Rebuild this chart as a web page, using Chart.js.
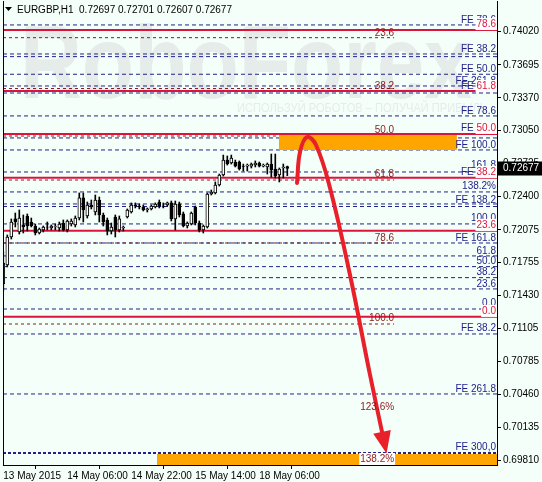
<!DOCTYPE html>
<html>
<head>
<meta charset="utf-8">
<script src="https://cdn.jsdelivr.net/npm/chart.js@4.4.1/dist/chart.umd.min.js"></script>
<style>
  html, body { margin: 0; padding: 0; background: #f5fffa; }
  canvas { display: block; }
</style>
</head>
<body>
<canvas id="chart" width="542" height="482"></canvas>
<script>
// EURGBP H1 candles, oldest first (one bar per hour)
const opens  = [0.71544,0.71730,0.72005,0.72182,0.72054,0.72123,0.72211,0.72152,0.72113,0.72044,0.72074,0.72103,0.72093,0.72103,0.72093,0.72142,0.72074,0.72132,0.72123,0.72191,0.72388,0.72211,0.72319,0.72250,0.72368,0.72221,0.72172,0.72064,0.72201,0.72074,0.72093,0.72201,0.72250,0.72319,0.72309,0.72299,0.72270,0.72280,0.72299,0.72348,0.72309,0.72319,0.72339,0.72182,0.72329,0.72231,0.72113,0.72132,0.72299,0.72142,0.72074,0.72103,0.72427,0.72437,0.72515,0.72613,0.72760,0.72731,0.72741,0.72741,0.72701,0.72701,0.72701,0.72711,0.72731,0.72701,0.72692,0.72721,0.72672,0.72613,0.72682,0.72697];
const highs  = [0.71858,0.72025,0.72182,0.72240,0.72270,0.72221,0.72231,0.72191,0.72132,0.72093,0.72113,0.72152,0.72123,0.72132,0.72152,0.72172,0.72172,0.72182,0.72211,0.72437,0.72437,0.72348,0.72368,0.72417,0.72397,0.72240,0.72191,0.72142,0.72221,0.72211,0.72113,0.72280,0.72339,0.72339,0.72329,0.72319,0.72290,0.72319,0.72339,0.72368,0.72339,0.72348,0.72358,0.72358,0.72348,0.72250,0.72152,0.72250,0.72309,0.72162,0.72123,0.72437,0.72466,0.72545,0.72623,0.72809,0.72800,0.72809,0.72760,0.72751,0.72721,0.72721,0.72731,0.72751,0.72741,0.72721,0.72731,0.72819,0.72819,0.72682,0.72721,0.72701];
const lows   = [0.71475,0.71711,0.71985,0.72103,0.72034,0.72044,0.72064,0.72103,0.72025,0.72034,0.72054,0.72074,0.72074,0.72074,0.72064,0.72064,0.72054,0.72113,0.72103,0.72172,0.72152,0.72191,0.72280,0.72221,0.72152,0.72113,0.72025,0.72034,0.72005,0.72054,0.72064,0.72191,0.72240,0.72290,0.72280,0.72260,0.72250,0.72270,0.72290,0.72290,0.72290,0.72309,0.72162,0.72074,0.72201,0.72103,0.72093,0.72123,0.72123,0.72054,0.72044,0.72093,0.72417,0.72427,0.72505,0.72603,0.72711,0.72721,0.72692,0.72662,0.72652,0.72652,0.72682,0.72692,0.72692,0.72692,0.72623,0.72593,0.72584,0.72545,0.72584,0.72607];
const closes = [0.71750,0.72005,0.72152,0.72152,0.72191,0.72103,0.72113,0.72113,0.72044,0.72083,0.72103,0.72100,0.72113,0.72106,0.72132,0.72074,0.72162,0.72162,0.72191,0.72388,0.72270,0.72319,0.72299,0.72368,0.72221,0.72152,0.72064,0.72103,0.72074,0.72182,0.72103,0.72270,0.72319,0.72309,0.72299,0.72270,0.72280,0.72309,0.72329,0.72309,0.72305,0.72339,0.72182,0.72329,0.72221,0.72113,0.72142,0.72240,0.72142,0.72074,0.72113,0.72427,0.72446,0.72515,0.72613,0.72760,0.72721,0.72780,0.72701,0.72672,0.72697,0.72711,0.72721,0.72731,0.72701,0.72711,0.72721,0.72662,0.72603,0.72672,0.72692,0.72677];

const timeTicks  = [0, 16, 32, 48, 64];
const timeLabels = ['13 May 2015', '14 May 06:00', '14 May 22:00', '15 May 14:00', '18 May 06:00'];
const priceTicks = [0.74020, 0.73695, 0.73370, 0.73050, 0.72725, 0.72400, 0.72075, 0.71755, 0.71430, 0.71105, 0.70785, 0.70460, 0.70135, 0.69810];
const lastPrice = 0.72677;

// Fibo retracement (red solid lines)
const fiboLevels = [0.74037, 0.73438, 0.73016, 0.72587, 0.72067, 0.71223];
// second retracement (dark red dotted, ends at bar 97.7)
const retrLevels = [0.73961, 0.73462, 0.72996, 0.72564, 0.71946, 0.71151];
// Fibo expansion levels (blue dashed)
const expLevels = [0.74086, 0.73801, 0.73775, 0.73602, 0.73487, 0.73418, 0.73193, 0.72977, 0.72859, 0.72643, 0.72447, 0.72329, 0.72304, 0.72133, 0.71946, 0.71819, 0.71714, 0.71606, 0.71495, 0.71298, 0.71053, 0.70464];
const fe300 = 0.69885;

// level captions
const blueTexts = ['FE 78.6','FE 38.2','FE 50.0','FE 261.8','FE 61.8','FE 78.6','FE 50.0','FE 100.0','161.8','FE 38.2','138.2%','FE 138.2','100.0','FE 161.8','61.8','50.0','38.2','23.6','0.0','FE 38.2','FE 261.8','FE 300,0'];
const blueTextAt = [0.74135,0.73850,0.73654,0.73536,0.73487,0.73242,0.73075,0.72908,0.72712,0.72643,0.72506,0.72368,0.72192,0.71995,0.71868,0.71770,0.71662,0.71544,0.71357,0.71112,0.70513,0.69944];
const redTexts = ['78.6','61.8','50.0','38.2','23.6','0.0'];
const redTextAt = [0.74095,0.73487,0.73075,0.72643,0.72123,0.71279];
const maroonTexts = ['23.6','38.2','50.0','61.8','78.6','100.0','123.6%','138.2%'];
const maroonTextAt = [0.74007,0.73487,0.73055,0.72623,0.71995,0.71210,0.70337,0.69826];

// target zones (orange)
const zoneFrom = [68.9, 38.4];
const zoneTo = [113.4, 123.425];
const zoneTop = [0.73016, 0.69875];
const zoneBottom = [0.72859, 0.69767];

// forecast arrow
const arrowX = [73.43, 74.18, 75.93, 78.18, 81.68, 86.68, 91.68, 94.68];
const arrowY = [0.72535, 0.72839, 0.72986, 0.72908, 0.72486, 0.71632, 0.70651, 0.70092];

const X_MIN = -0.075, X_MAX = 123.425, RETR_END = 97.7;
const BLUE = '#22228a', RED = '#dc143c', MAROON = '#8b1a1a', ORANGE = '#ffa500';

Chart.defaults.font.family = '"Liberation Sans", Arial, sans-serif';
Chart.defaults.font.size = 10;
Chart.defaults.color = '#000';

const hLine = (v, from, to, color, width, dash, order) => ({
  type: 'line',
  data: [{ x: from, y: v }, { x: to, y: v }],
  borderColor: color,
  borderWidth: width,
  borderDash: dash,
  pointRadius: 0,
  order: order
});

const datasets = [];
expLevels.forEach(v => datasets.push(hLine(v, X_MIN, X_MAX, BLUE, 1, [4, 3], 60)));
datasets.push(hLine(fe300, X_MIN, X_MAX, BLUE, 2, [3, 2], 60));
retrLevels.forEach(v => datasets.push(hLine(v, X_MIN, RETR_END, MAROON, 1, [3, 3], 55)));
zoneFrom.forEach((f, i) => datasets.push({
  type: 'line',
  data: [{ x: f, y: zoneTop[i] }, { x: zoneTo[i], y: zoneTop[i] }],
  borderWidth: 0,
  pointRadius: 0,
  backgroundColor: ORANGE,
  fill: { value: zoneBottom[i] },
  order: 40
}));
fiboLevels.forEach(v => datasets.push(hLine(v, X_MIN, X_MAX, RED, 2, [], 30)));

// wicks then bodies
datasets.push({
  type: 'bar',
  data: highs.map((h, i) => ({ x: i, y: [lows[i], h] })),
  backgroundColor: '#000',
  barThickness: 1,
  grouped: false,
  order: 20
});
datasets.push({
  type: 'bar',
  data: opens.map((o, i) => ({ x: i, y: [o, closes[i]] })),
  backgroundColor: ctx => closes[ctx.dataIndex] >= opens[ctx.dataIndex] ? '#fff' : '#000',
  borderColor: '#000',
  borderWidth: 1,
  borderSkipped: false,
  barThickness: 3,
  grouped: false,
  order: 10
});
datasets.push({
  type: 'line',
  data: arrowX.map((x, i) => ({ x: x, y: arrowY[i] })),
  borderColor: '#e8202a',
  borderWidth: 4,
  tension: 0.4,
  pointRadius: 0,
  borderCapStyle: 'round',
  order: 5
});

const overlay = {
  id: 'overlay',
  beforeDatasetsDraw(chart) {
    const { ctx } = chart;
    ctx.save();
    ctx.fillStyle = '#e5ecea';
    ctx.font = 'bold 104px "Liberation Sans", Arial, sans-serif';
    ctx.textBaseline = 'alphabetic';
    ctx.fillText('RoboForex', 20, 98, 452);
    ctx.font = '13px "Liberation Sans", Arial, sans-serif';
    ctx.fillText('ИСПОЛЬЗУЙ РОБОТОВ – ПОЛУЧАЙ ПРИБЫЛЬ', 237, 112, 250);
    ctx.restore();
  },
  afterDatasetsDraw(chart) {
    const { ctx, chartArea, scales } = chart;
    const y = scales.y;
    ctx.save();
    // arrow head
    const meta = chart.getDatasetMeta(chart.data.datasets.length - 1);
    const pts = meta.data;
    const a = pts[pts.length - 1], b = pts[pts.length - 2];
    const ang = Math.atan2(a.y - b.y, a.x - b.x);
    const len = 22, hw = 9;
    ctx.fillStyle = '#e8202a';
    ctx.beginPath();
    ctx.moveTo(a.x + Math.cos(ang) * len, a.y + Math.sin(ang) * len);
    ctx.lineTo(a.x + Math.cos(ang + Math.PI / 2) * hw, a.y + Math.sin(ang + Math.PI / 2) * hw);
    ctx.lineTo(a.x - Math.cos(ang + Math.PI / 2) * hw, a.y - Math.sin(ang + Math.PI / 2) * hw);
    ctx.closePath();
    ctx.fill();

    // left frame line
    ctx.strokeStyle = '#000';
    ctx.lineWidth = 1;
    ctx.beginPath();
    ctx.moveTo(chartArea.left + 0.5, chartArea.top);
    ctx.lineTo(chartArea.left + 0.5, chartArea.bottom);
    ctx.stroke();

    // captions
    ctx.font = '10px "Liberation Sans", Arial, sans-serif';
    ctx.textAlign = 'right';
    ctx.textBaseline = 'middle';
    const put = (text, x, py, color, bg) => {
      if (bg) {
        const w = ctx.measureText(text).width;
        ctx.fillStyle = bg;
        ctx.fillRect(x - w - 1, py - 6, w + 2, 12);
      }
      ctx.fillStyle = color;
      ctx.fillText(text, x, py);
    };
    const right = chartArea.right - 1;
    const mid = scales.x.getPixelForValue(RETR_END);
    blueTexts.forEach((t, i) => put(t, right, y.getPixelForValue(blueTextAt[i]), BLUE));
    redTexts.forEach((t, i) => put(t, right, y.getPixelForValue(redTextAt[i]), RED, '#fff'));
    maroonTexts.forEach((t, i) => put(t, mid, y.getPixelForValue(maroonTextAt[i]), MAROON, i === maroonTexts.length - 1 ? '#fff' : null));

    // header
    ctx.textAlign = 'left';
    ctx.fillStyle = '#000';
    ctx.beginPath();
    ctx.moveTo(5, 7); ctx.lineTo(12, 7); ctx.lineTo(8.5, 11);
    ctx.closePath();
    ctx.fill();
    ctx.fillText('EURGBP,H1  0.72697 0.72701 0.72607 0.72677', 17, 10);
    ctx.restore();
  },
  afterDraw(chart) {
    const { ctx, chartArea, scales } = chart;
    const py = scales.y.getPixelForValue(lastPrice);
    ctx.save();
    ctx.fillStyle = '#000';
    ctx.fillRect(chartArea.right + 1, py - 7, 44, 14);
    ctx.fillStyle = '#fff';
    ctx.font = '10px "Liberation Sans", Arial, sans-serif';
    ctx.textBaseline = 'middle';
    ctx.fillText(lastPrice.toFixed(5), chartArea.right + 6, py);
    ctx.restore();
  }
};

new Chart(document.getElementById('chart'), {
  type: 'bar',
  data: { datasets },
  options: {
    responsive: false,
    animation: false,
    layout: { padding: { left: 3, top: 1, right: 0, bottom: 0 } },
    plugins: { legend: { display: false }, tooltip: { enabled: false } },
    scales: {
      x: {
        type: 'linear',
        min: X_MIN,
        max: X_MAX,
        offset: false,
        afterBuildTicks: s => { s.ticks = timeTicks.map(v => ({ value: v })); },
        afterFit: s => { s.height = 17; s.paddingLeft = 0; s.paddingRight = 0; },
        ticks: {
          autoSkip: false,
          maxRotation: 0,
          align: 'start',
          padding: 1,
          callback: v => timeLabels[timeTicks.indexOf(v)]
        },
        grid: { drawOnChartArea: false, tickLength: 4, color: '#000' },
        border: { color: '#000' }
      },
      y: {
        position: 'right',
        min: 0.69767,
        max: 0.74321,
        afterBuildTicks: s => { s.ticks = priceTicks.map(v => ({ value: v })); },
        afterFit: s => { s.width = 45; s.paddingTop = 0; s.paddingBottom = 0; },
        ticks: { padding: 2, callback: v => v.toFixed(5) },
        grid: { drawOnChartArea: false, tickLength: 4, color: '#000' },
        border: { color: '#000' }
      }
    }
  },
  plugins: [overlay]
});
</script>
</body>
</html>
